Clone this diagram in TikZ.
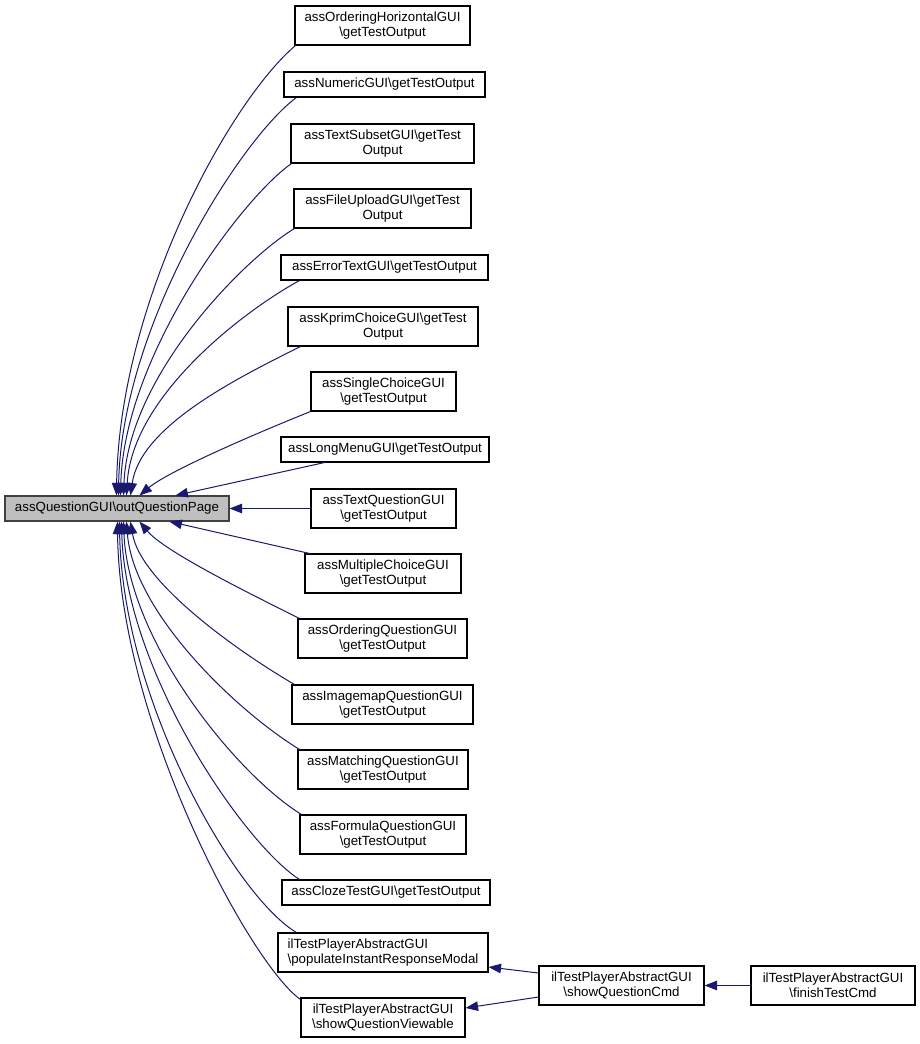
\documentclass[tikz,border=0pt]{standalone}
\usepackage{fontspec}
\setmainfont{Liberation Sans}
\usetikzlibrary{arrows.meta,calc}
\newcommand\dxfont{\fontsize{13.3}{15}\selectfont}
\definecolor{edgeblue}{HTML}{191970}
\definecolor{rootline}{HTML}{404040}
\definecolor{rootfill}{HTML}{BFBFBF}
\tikzset{
  box/.style={draw=black, line width=1.1pt, fill=white, inner sep=0pt, align=center, font=\dxfont},
  rootbox/.style={box, draw=rootline, fill=rootfill},
  edge/.style={draw=edgeblue, line width=1pt, -{Triangle[length=12.5pt,width=9.5pt]}},
}
\begin{document}
\begin{tikzpicture}[x=1pt,y=-1pt]
\useasboundingbox[fill=white] (0,0) rectangle (920,1044);
\node[rootbox, minimum width=224, minimum height=25] (main) at (117,508.5) {assQuestionGUI\textbackslash outQuestionPage};
\node[box, minimum width=175, minimum height=39] (n1) at (382.5,25.5) {assOrderingHorizontalGUI\\\textbackslash getTestOutput};
\node[box, minimum width=201, minimum height=25] (n2) at (384.5,84.5) {assNumericGUI\textbackslash getTestOutput};
\node[box, minimum width=183, minimum height=39] (n3) at (382.5,143.5) {assTextSubsetGUI\textbackslash getTest\\Output};
\node[box, minimum width=177, minimum height=39] (n4) at (382.5,208.5) {assFileUploadGUI\textbackslash getTest\\Output};
\node[box, minimum width=207, minimum height=25] (n5) at (384.5,267.5) {assErrorTextGUI\textbackslash getTestOutput};
\node[box, minimum width=190, minimum height=39] (n6) at (383,326.5) {assKprimChoiceGUI\textbackslash getTest\\Output};
\node[box, minimum width=145, minimum height=39] (n7) at (383.5,391.5) {assSingleChoiceGUI\\\textbackslash getTestOutput};
\node[box, minimum width=208, minimum height=25] (n8) at (385,449.5) {assLongMenuGUI\textbackslash getTestOutput};
\node[box, minimum width=145, minimum height=39] (n9) at (383.5,508.5) {assTextQuestionGUI\\\textbackslash getTestOutput};
\node[box, minimum width=156, minimum height=39] (n10) at (383,573.5) {assMultipleChoiceGUI\\\textbackslash getTestOutput};
\node[box, minimum width=169, minimum height=39] (n11) at (382.5,638.5) {assOrderingQuestionGUI\\\textbackslash getTestOutput};
\node[box, minimum width=181, minimum height=39] (n12) at (382.5,704.5) {assImagemapQuestionGUI\\\textbackslash getTestOutput};
\node[box, minimum width=170, minimum height=39] (n13) at (383,769.5) {assMatchingQuestionGUI\\\textbackslash getTestOutput};
\node[box, minimum width=166, minimum height=39] (n14) at (383,834.5) {assFormulaQuestionGUI\\\textbackslash getTestOutput};
\node[box, minimum width=208, minimum height=25] (n15) at (386,892.5) {assClozeTestGUI\textbackslash getTestOutput};
\node[box, align=left, minimum width=210, minimum height=39] (n16) at (383,952.5) {ilTestPlayerAbstractGUI\\\textbackslash populateInstantResponseModal};
\node[box, minimum width=164, minimum height=39] (n17) at (383,1017.5) {ilTestPlayerAbstractGUI\\\textbackslash showQuestionViewable};
\node[box, minimum width=165, minimum height=39] (n18) at (621.5,985.5) {ilTestPlayerAbstractGUI\\\textbackslash showQuestionCmd};
\node[box, minimum width=164, minimum height=39] (n19) at (833,985.5) {ilTestPlayerAbstractGUI\\\textbackslash finishTestCmd};
% top group
\draw[edge] ($(n1.south west)+(1,0)$) .. controls +(-65,55) and +(3,-195) .. ($(main.north west)+(112,0)$);
\draw[edge] ($(n2.south west)+(13,0)$) .. controls +(-55,40) and +(3,-170) .. ($(main.north west)+(114,0)$);
\draw[edge] ($(n3.south west)+(1,0)$) .. controls +(-50,35) and +(4,-140) .. ($(main.north west)+(116,0)$);
\draw[edge] ($(n4.south west)+(1,0)$) .. controls +(-50,30) and +(5,-120) .. ($(main.north west)+(119,0)$);
\draw[edge] ($(n5.south west)+(19,0)$) .. controls +(-55,30) and +(6,-100) .. ($(main.north west)+(122,0)$);
\draw[edge] ($(n6.south west)+(13,0)$) .. controls +(-60,30) and +(10,-70) .. ($(main.north west)+(126,0)$);
\draw[edge] (n7.south west) .. controls +(-50,20) and +(30,-25) .. ($(main.north west)+(135,0)$);
\draw[edge] ($(n8.south west)+(44,0)$) -- ($(main.north west)+(171,0)$);
\draw[edge] (n9.west) -- (main.east);
% bottom group
\draw[edge] ($(n10.north west)+(5,0)$) -- ($(main.south west)+(165,0)$);
\draw[edge] ($(n11.north west)+(2,0)$) .. controls +(-50,-25) and +(25,30) .. ($(main.south west)+(135,0)$);
\draw[edge] ($(n12.north west)+(3,0)$) .. controls +(-60,-35) and +(10,60) .. ($(main.south west)+(126,0)$);
\draw[edge] ($(n13.north west)+(2,0)$) .. controls +(-65,-40) and +(7,90) .. ($(main.south west)+(122,0)$);
\draw[edge] ($(n14.north west)+(2,0)$) .. controls +(-65,-40) and +(5,120) .. ($(main.south west)+(119,0)$);
\draw[edge] ($(n15.north west)+(18,0)$) .. controls +(-55,-35) and +(4,150) .. ($(main.south west)+(117,0)$);
\draw[edge] ($(n16.north west)+(19,0)$) .. controls +(-60,-35) and +(3,180) .. ($(main.south west)+(115,0)$);
\draw[edge] ($(n17.north west)+(0,2)$) .. controls +(-50,-35) and +(2,200) .. ($(main.south west)+(113,0)$);
% right part
\draw[edge] ($(n18.west)+(0,-12.5)$) -- ($(n16.east)+(0,14.5)$);
\draw[edge] ($(n18.west)+(0,11.5)$) -- ($(n17.east)+(0,-9.5)$);
\draw[edge] (n19.west) -- (n18.east);
\end{tikzpicture}
\end{document}
